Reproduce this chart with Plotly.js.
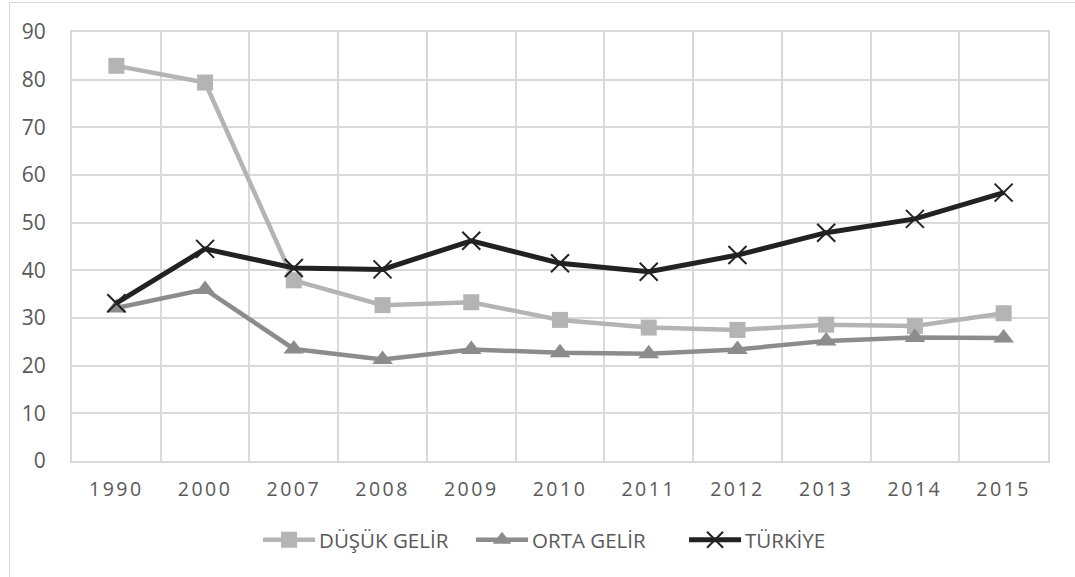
<!DOCTYPE html>
<html>
<head>
<meta charset="utf-8">
<script src="https://cdn.plot.ly/plotly-3.0.1.min.js"></script>
<style>
  html, body { margin: 0; padding: 0; background: #fff; }
  #wrap { position: relative; width: 1075px; height: 577px; overflow: hidden; }
  #chart { position: absolute; left: 0; top: 0; width: 1075px; height: 577px; }
  #frame { position: absolute; left: 9px; top: 2px; width: 1080px; height: 600px;
           border-left: 1px solid #d9d9d9; border-top: 1px solid #d9d9d9; pointer-events: none; }
  .xtick text { letter-spacing: 2.5px; }
</style>
</head>
<body>
<div id="wrap">
  <div id="chart"></div>
  <div id="frame"></div>
</div>
<script>
const years = ["1990", "2000", "2007", "2008", "2009", "2010", "2011", "2012", "2013", "2014", "2015"];
const dusukGelir = [82.9, 79.4, 37.9, 32.7, 33.3, 29.6, 28.0, 27.5, 28.6, 28.3, 31.0];
const ortaGelir  = [32.1, 36.0, 23.5, 21.3, 23.4, 22.7, 22.5, 23.4, 25.2, 25.9, 25.8];
const turkiye    = [33.1, 44.5, 40.5, 40.2, 46.2, 41.5, 39.7, 43.2, 47.9, 50.8, 56.3];
const yTicks = [0, 10, 20, 30, 40, 50, 60, 70, 80, 90];

const fontFam = "'Open Sans', 'Liberation Sans', sans-serif";

const traces = [
  { x: years, y: dusukGelir, name: "DÜŞÜK GELİR", type: "scatter", mode: "lines+markers",
    line: { color: "#b4b4b4", width: 4.5 },
    marker: { symbol: "square", size: 16, color: "#b4b4b4" } },
  { x: years, y: ortaGelir, name: "ORTA GELİR", type: "scatter", mode: "lines+markers",
    line: { color: "#8c8c8c", width: 4.5 },
    marker: { symbol: "triangle-up", size: 18, color: "#8c8c8c" } },
  { x: years, y: turkiye, name: "TÜRKİYE", type: "scatter", mode: "lines+markers",
    line: { color: "#222222", width: 5 },
    marker: { symbol: "x-thin", size: 18, color: "#222222", line: { color: "#222222", width: 2 } } }
];

const layout = {
  width: 1075, height: 577,
  margin: { l: 72, r: 27, t: 32, b: 116 },
  paper_bgcolor: "rgba(0,0,0,0)", plot_bgcolor: "#fff",
  font: { family: fontFam, color: "#595959", size: 20 },
  showlegend: true,
  legend: { orientation: "h", x: 0.1937, xanchor: "left", y: -0.184, yanchor: "middle",
            font: { family: fontFam, size: 20.5, color: "#595959" }, itemwidth: 48,
            entrywidth: 150, entrywidthmode: "pixels", tracegroupgap: 0 },
  xaxis: {
    type: "category", tickson: "boundaries", range: [-0.5, 10.5],
    showgrid: true, gridcolor: "#d9d9d9", gridwidth: 2,
    showline: true, linecolor: "#d9d9d9", linewidth: 2, mirror: true,
    ticks: "", ticklabelstandoff: 10,
    tickfont: { family: fontFam, size: 19.5, color: "#595959" },
    zeroline: false, fixedrange: true
  },
  yaxis: {
    range: [0, 90], tickvals: yTicks, ticktext: yTicks.map(String),
    showgrid: true, gridcolor: "#d9d9d9", gridwidth: 2,
    showline: true, linecolor: "#d9d9d9", linewidth: 2, mirror: true,
    ticks: "", ticklabelstandoff: 20,
    tickfont: { family: fontFam, size: 21, color: "#595959" },
    zeroline: false, fixedrange: true
  }
};

Plotly.newPlot("chart", traces, layout, { displayModeBar: false, staticPlot: true }).then(function () {
  // widen legend key samples to mimic the original's long legend keys
  document.querySelectorAll("#chart .legend .legendlines path").forEach(function (p) {
    p.setAttribute("d", "M2,0h52");
  });
  document.querySelectorAll("#chart .legend .legendpoints path.scatterpts").forEach(function (p) {
    p.setAttribute("transform", "translate(28,0)");
  });
});
</script>
</body>
</html>
